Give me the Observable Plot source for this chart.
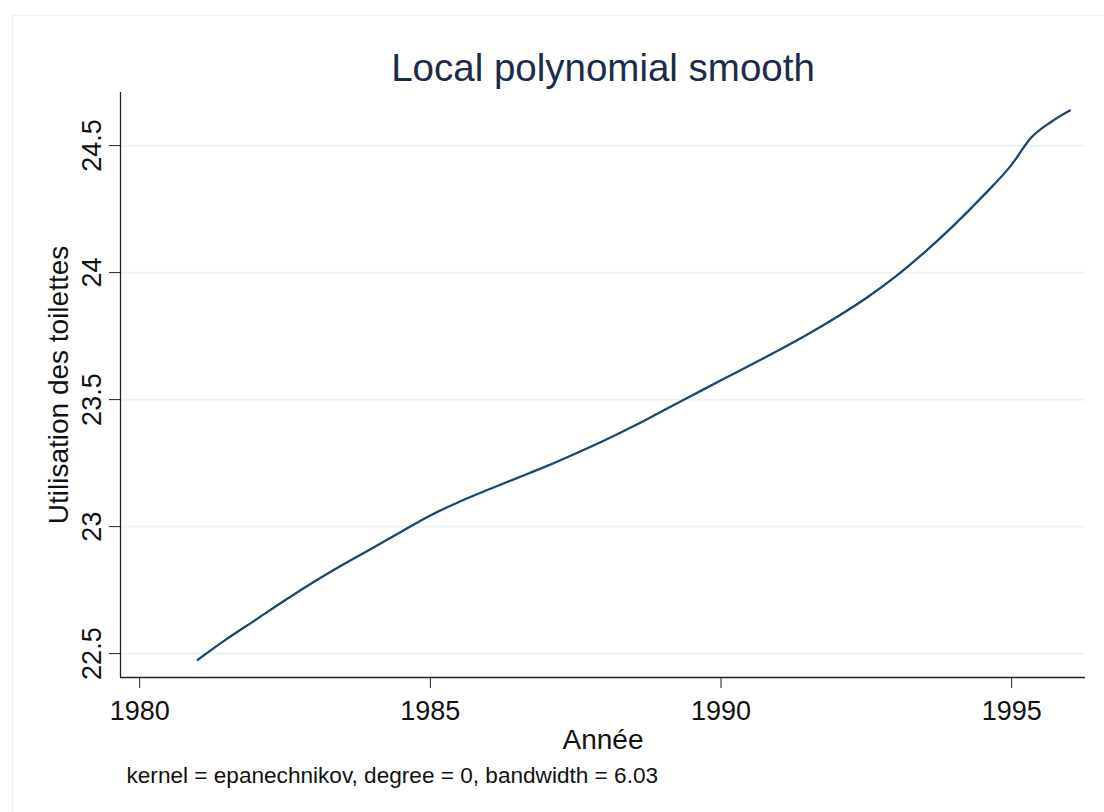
<!DOCTYPE html>
<html>
<head>
<meta charset="utf-8">
<script src="https://cdn.jsdelivr.net/npm/d3@7"></script>
<script src="https://cdn.jsdelivr.net/npm/@observablehq/plot@0.6"></script>
<style>
  html, body { margin: 0; padding: 0; background: #ffffff; }
  #wrap { position: relative; width: 1104px; height: 812px; overflow: hidden; font-family: "Liberation Sans", Arial, sans-serif; }
  #border { position: absolute; left: 12px; top: 15px; width: 1100px; height: 810px; border: 1px solid #f1f1f1; box-sizing: border-box; }
  #chart { position: absolute; left: 0; top: 0; }
</style>
</head>
<body>
<div id="wrap"><div id="border"></div><div id="chart"></div></div>
<script>
const titleText = "Local polynomial smooth";
const xTitle = "Année";
const yTitle = "Utilisation des toilettes";
const captionText = "kernel = epanechnikov, degree = 0, bandwidth = 6.03";

const years = [1981, 1981.5, 1982, 1982.5, 1983, 1983.5, 1984, 1984.5, 1985, 1985.5,
  1986, 1986.5, 1987, 1987.5, 1988, 1988.5, 1989, 1989.5, 1990, 1990.5,
  1991, 1991.5, 1992, 1992.5, 1993, 1993.5, 1994, 1994.5, 1995, 1995.33, 1995.67, 1996];
const values = [22.476, 22.558, 22.634, 22.710, 22.783, 22.851, 22.915, 22.980, 23.044, 23.098,
  23.146, 23.192, 23.238, 23.288, 23.340, 23.396, 23.456, 23.516, 23.576, 23.635,
  23.695, 23.758, 23.826, 23.900, 23.984, 24.080, 24.185, 24.300, 24.425, 24.530, 24.592, 24.638];

const xTicks = [1980, 1985, 1990, 1995];
const yTicks = [22.5, 23, 23.5, 24, 24.5];
const xDomain = [1979.67, 1996.27];
const yDomain = [22.406, 24.709];

const data = years.map((y, i) => ({year: y, value: values[i]}));
const font = "Liberation Sans, Arial, sans-serif";

const chart = Plot.plot({
  width: 1104,
  height: 812,
  marginLeft: 120,
  marginRight: 19,
  marginTop: 92,
  marginBottom: 135,
  style: {fontFamily: font, background: "transparent", color: "#000"},
  x: {domain: xDomain, axis: null},
  y: {domain: yDomain, axis: null},
  marks: [
    Plot.gridY(yTicks, {stroke: "#eaf2f3", strokeOpacity: 1, strokeWidth: 1.6}),
    Plot.ruleX([xDomain[0]], {stroke: "#222", strokeWidth: 1.3}),
    Plot.ruleY([yDomain[0]], {stroke: "#222", strokeWidth: 1.3}),
    Plot.axisX(xTicks, {tickSize: 11, tickPadding: 12, fontSize: 27, stroke: "#222", fill: "#111", label: null, tickFormat: d => String(d)}),
    Plot.axisY(yTicks, {tickSize: 11, stroke: "#222", text: null, label: null, tickFormat: () => ""}),
    Plot.text(yTicks, {y: d => d, text: d => String(d), frameAnchor: "left", dx: -20, rotate: -90, textAnchor: "middle", lineAnchor: "bottom", fontSize: 27, fill: "#111"}),
    Plot.line(data, {x: "year", y: "value", stroke: "#1a476f", strokeWidth: 2.3, curve: "monotone-x"}),
    Plot.text([titleText], {frameAnchor: "top", dy: -12, lineAnchor: "bottom", fontSize: 38.5, fill: "#1a2b4c"}),
    Plot.text([xTitle], {frameAnchor: "bottom", dy: 71, lineAnchor: "bottom", fontSize: 28, fill: "#111"}),
    Plot.text([yTitle], {frameAnchor: "left", dx: -53, rotate: -90, textAnchor: "middle", lineAnchor: "bottom", fontSize: 28, fill: "#111"}),
    Plot.text([captionText], {frameAnchor: "bottom-left", dx: 6, dy: 105, textAnchor: "start", lineAnchor: "bottom", fontSize: 22.6, fill: "#111"})
  ]
});
document.getElementById("chart").appendChild(chart);
</script>
</body>
</html>
